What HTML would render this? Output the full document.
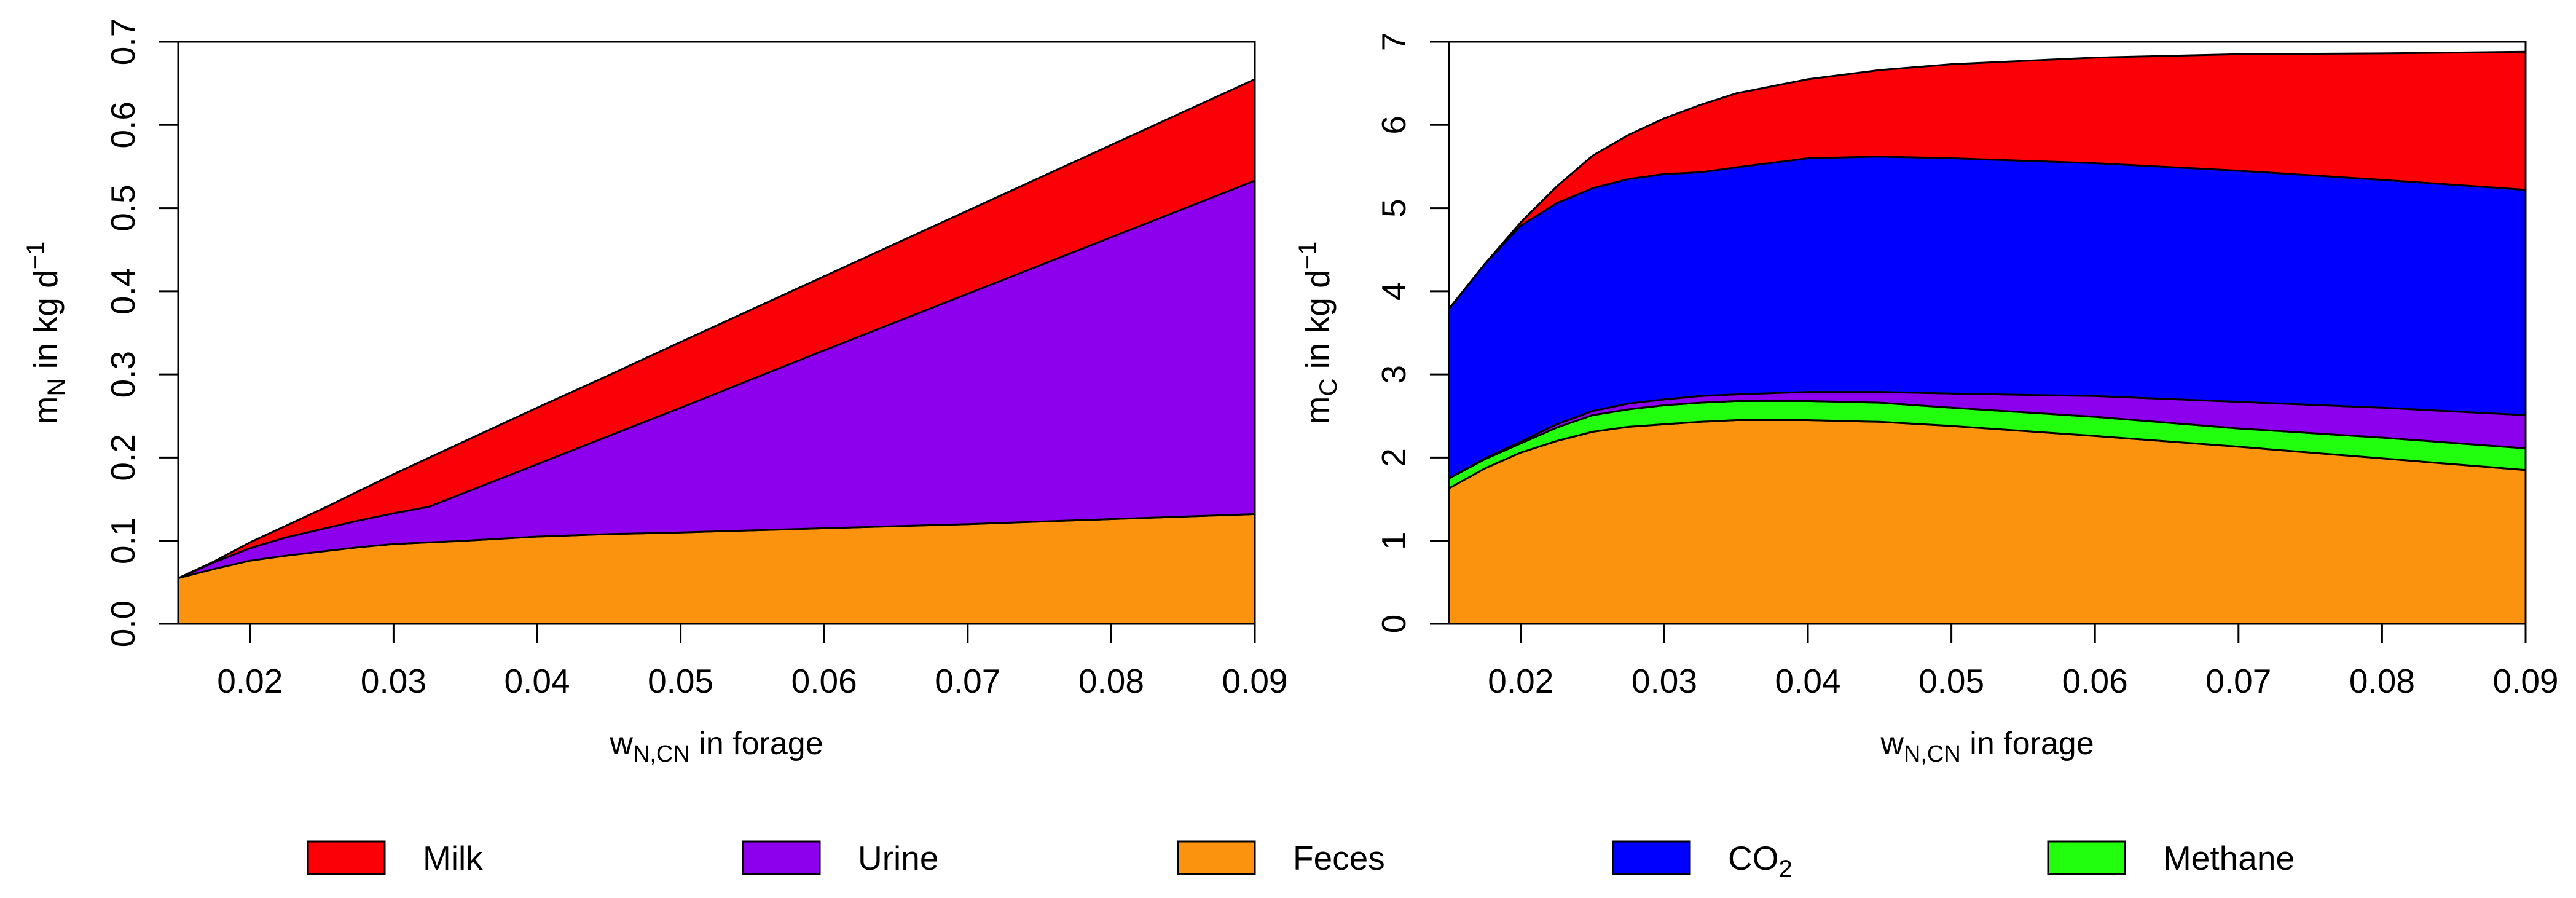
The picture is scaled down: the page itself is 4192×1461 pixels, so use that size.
<!DOCTYPE html>
<html><head><meta charset="utf-8"><style>
html,body{margin:0;padding:0;background:#fff;}
svg{display:block;font-family:"Liberation Sans",Arial,sans-serif;}
</style></head><body>
<svg id="chart" width="4192" height="1461" viewBox="0 0 4192 1461" xmlns="http://www.w3.org/2000/svg">
<g id="left"></g>
<g id="right"></g>
<g id="legend"></g>
</svg>
<script>
// shared x grid (w_N,CN in forage)
const xValues = [0.015,0.0175,0.02,0.0225,0.025,0.0275,0.03,0.0325,0.035,0.04,0.045,0.05,0.06,0.07,0.08,0.09];
const xTicks = [0.02,0.03,0.04,0.05,0.06,0.07,0.08,0.09];
const xTickLabels = ["0.02","0.03","0.04","0.05","0.06","0.07","0.08","0.09"];
// left panel: nitrogen (stacked components, bottom to top)
const nFeces = [0.055,0.066,0.076,0.082,0.087,0.092,0.096,0.098,0.100,0.105,0.108,0.110,0.115,0.120,0.126,0.132];
const nUrine = [0.000,0.008,0.015,0.022,0.027,0.032,0.037,0.043,0.058,0.087,0.118,0.150,0.214,0.277,0.339,0.401];
const nMilk  = [0.000,0.001,0.007,0.014,0.024,0.035,0.047,0.059,0.062,0.068,0.073,0.079,0.089,0.100,0.111,0.122];
const nYTicks = [0,0.1,0.2,0.3,0.4,0.5,0.6,0.7];
const nYTickLabels = ["0.0","0.1","0.2","0.3","0.4","0.5","0.6","0.7"];
// right panel: carbon (stacked components, bottom to top)
const cFeces   = [1.63,1.87,2.06,2.20,2.31,2.37,2.40,2.43,2.45,2.45,2.43,2.38,2.26,2.13,1.99,1.85];
const cMethane = [0.12,0.11,0.11,0.16,0.20,0.21,0.23,0.23,0.23,0.23,0.23,0.22,0.23,0.22,0.25,0.26];
const cUrine   = [0.00,0.01,0.02,0.04,0.05,0.07,0.07,0.08,0.08,0.11,0.13,0.17,0.25,0.32,0.36,0.40];
const cCO2     = [2.04,2.34,2.60,2.66,2.68,2.70,2.71,2.69,2.73,2.81,2.83,2.83,2.80,2.78,2.74,2.71];
const cMilk    = [0.00,0.00,0.04,0.20,0.39,0.53,0.67,0.81,0.89,0.95,1.04,1.13,1.27,1.40,1.52,1.66];
const cYTicks = [0,1,2,3,4,5,6,7];
const cYTickLabels = ["0","1","2","3","4","5","6","7"];
const legendLabels = ["Milk","Urine","Feces","CO2","Methane"];

const COL = {Milk:"#fc0007",Urine:"#8d00ee",Feces:"#fc930f",CO2:"#0000ff",Methane:"#22ff0e"};
const NS="http://www.w3.org/2000/svg";
function mk(tag,attrs,parent){const e=document.createElementNS(NS,tag);for(const k in attrs)e.setAttribute(k,attrs[k]);parent.appendChild(e);return e;}

function panel(g,x0,x1,yTop,yBot,ymax,layers,yTicks,yLabels,yLabX,titleX,sub,prefix){
  const sx=v=>x0+(v-0.015)/(0.09-0.015)*(x1-x0);
  const sy=v=>yBot-v/ymax*(yBot-yTop);
  let base=xValues.map(()=>0);
  layers.forEach(([name,vals])=>{
    const top=base.map((b,i)=>b+vals[i]);
    let d="M"+xValues.map((x,i)=>sx(x).toFixed(1)+","+sy(top[i]).toFixed(1)).join("L");
    for(let i=xValues.length-1;i>=0;i--) d+="L"+sx(xValues[i]).toFixed(1)+","+sy(base[i]).toFixed(1);
    d+="Z";
    const p=mk("path",{d:d,fill:COL[name],stroke:"#000","stroke-width":3,"stroke-linejoin":"round"},g);
    
    
    base=top;
  });
  const box=mk("rect",{x:x0,y:yTop,width:x1-x0,height:yBot-yTop,fill:"none",stroke:"#000","stroke-width":3},g);
  
  
  xTicks.forEach((t,i)=>{
    const X=sx(t);
    const l=mk("line",{x1:X,x2:X,y1:yBot,y2:yBot+31,stroke:"#000","stroke-width":3},g);
    
    
    const tx=mk("text",{x:X,y:1127,"font-size":55,"text-anchor":"middle"},g);
    tx.textContent=xTickLabels[i];
    
    
  });
  yTicks.forEach((t,i)=>{
    const Y=sy(t);
    const l=mk("line",{x1:x0-31,x2:x0,y1:Y,y2:Y,stroke:"#000","stroke-width":3},g);
    
    
    const tx=mk("text",{x:0,y:0,"font-size":55,"text-anchor":"middle",transform:`translate(${yLabX},${Y}) rotate(-90)`},g);
    tx.textContent=yLabels[i];
    
    
  });
  const xt=mk("text",{x:(x0+x1)/2,y:1227,"font-size":52,"text-anchor":"middle"},g);
  xt.innerHTML='w<tspan font-size="38" dy="12">N,CN</tspan><tspan dy="-12"> in forage</tspan>';
  
  
  const yt=mk("text",{x:0,y:0,"font-size":55,"text-anchor":"middle",transform:`translate(${titleX},${(yTop+yBot)/2}) rotate(-90)`},g);
  yt.innerHTML='m<tspan font-size="40" dy="12">'+sub+'</tspan><tspan dy="-12"> in kg d</tspan><tspan font-size="40" dy="-22">\u22121</tspan>';
  
  
}

panel(document.getElementById("left"),290,2042,68,1015,0.7,
  [["Feces",nFeces],["Urine",nUrine],["Milk",nMilk]],nYTicks,nYTickLabels,219,93,"N","n");
panel(document.getElementById("right"),2358,4110,68,1015,7,
  [["Feces",cFeces],["Methane",cMethane],["Urine",cUrine],["CO2",cCO2],["Milk",cMilk]],cYTicks,cYTickLabels,2287,2163,"C","c");

const lg=document.getElementById("legend");
legendLabels.forEach((name,i)=>{
  const bx=501+i*708;
  const r=mk("rect",{x:bx,y:1369,width:125,height:53,fill:COL[name],stroke:"#000","stroke-width":3},lg);
  
  
  const t=mk("text",{x:bx+187,y:1415,"font-size":55},lg);
  if(name==="CO2") t.innerHTML='CO<tspan font-size="40" dy="12">2</tspan>'; else t.textContent=name;
  
  
});
</script>
</body></html>
